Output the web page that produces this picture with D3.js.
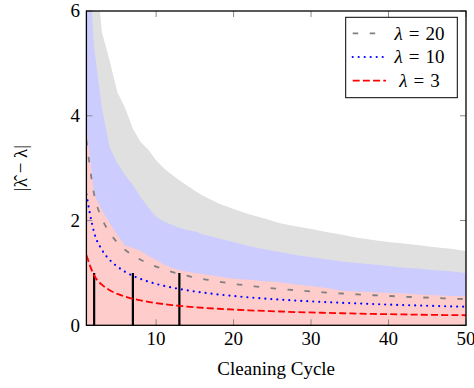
<!DOCTYPE html>
<html>
<head>
<meta charset="utf-8">
<script src="https://cdn.jsdelivr.net/npm/d3@7"></script>
<style>
  body { margin: 0; background: #fff; }
</style>
</head>
<body>
<svg id="chart" width="474" height="388"></svg>
<script>
// cleaning cycles where values were read
const cycles = [1,2,3,4,5,6,7,8,9,10,11,12,13,14,15,16,18,20,22,24,26,28,30,32,34,36,38,40,42,44,46,48,50];

// upper edges of the shaded bands
const band20 = [10.5,7.2,5.6,5.05,4.45,4.15,3.75,3.5,3.35,3.15,3.0,2.88,2.77,2.67,2.57,2.48,2.33,2.22,2.12,2.04,1.95,1.89,1.84,1.78,1.73,1.67,1.63,1.59,1.56,1.53,1.49,1.46,1.42];
const band10 = [7.6,5.3,4.15,3.4,3.1,2.87,2.68,2.45,2.25,2.07,1.98,1.92,1.86,1.82,1.79,1.74,1.66,1.59,1.51,1.45,1.40,1.34,1.30,1.26,1.22,1.19,1.16,1.13,1.10,1.08,1.05,1.03,1.00];
const band3  = [3.8,2.5,2.2,1.95,1.72,1.52,1.48,1.42,1.33,1.25,1.16,1.10,1.05,1.02,1.0,0.98,0.93,0.89,0.87,0.84,0.82,0.78,0.75,0.71,0.66,0.645,0.63,0.615,0.605,0.59,0.575,0.56,0.55];

// mean error curves
const mean20 = [3.54,2.5,2.04,1.77,1.58,1.44,1.34,1.25,1.18,1.12,1.07,1.02,0.98,0.95,0.91,0.885,0.835,0.79,0.755,0.72,0.695,0.67,0.645,0.625,0.607,0.59,0.574,0.56,0.546,0.534,0.522,0.511,0.5];
const mean10 = [2.5,1.77,1.44,1.25,1.12,1.02,0.945,0.885,0.833,0.79,0.754,0.722,0.693,0.668,0.645,0.625,0.589,0.559,0.533,0.51,0.49,0.472,0.456,0.442,0.429,0.417,0.406,0.395,0.386,0.377,0.369,0.361,0.354];
const mean3  = [1.34,0.95,0.775,0.67,0.6,0.547,0.506,0.474,0.447,0.424,0.404,0.387,0.372,0.358,0.346,0.335,0.316,0.3,0.286,0.274,0.263,0.253,0.245,0.237,0.23,0.223,0.217,0.212,0.207,0.202,0.198,0.194,0.192];

// vertical markers
const markerCycles = [2, 7, 13];
const markerHeight = 1;

const xTicks = [10, 20, 30, 40, 50];
const yTicks = [0, 2, 4, 6];

const series = [
  { name: "20", band: band20, mean: mean20, fill: "#e0e0e0", stroke: "#808080", dash: "5.5,11.5", cap: "butt", width: 1.8 },
  { name: "10", band: band10, mean: mean10, fill: "#ccccff", stroke: "#0000ff", dash: "0,6", cap: "round", width: 2.2 },
  { name: "3",  band: band3,  mean: mean3,  fill: "#ffcccc", stroke: "#ff0000", dash: "7,3.2", cap: "butt", width: 1.8 }
];

const FONT = '"Liberation Serif"';
const margin = { left: 86.4, right: 466, top: 11, bottom: 325.3 };
const svg = d3.select("#chart");

const x = d3.scaleLinear().domain([1, 50]).range([margin.left, margin.right]);
const y = d3.scaleLinear().domain([0, 6]).range([margin.bottom, margin.top]);

svg.append("defs").append("clipPath").attr("id", "plotclip")
  .append("rect")
  .attr("x", margin.left).attr("y", margin.top)
  .attr("width", margin.right - margin.left)
  .attr("height", margin.bottom - margin.top);

const plot = svg.append("g").attr("clip-path", "url(#plotclip)");

// bands, widest first
series.forEach(s => {
  const area = d3.area()
    .x((d, i) => x(cycles[i]))
    .y0(y(0))
    .y1(d => y(d));
  plot.append("path")
    .datum(s.band)
    .attr("d", area)
    .attr("fill", s.fill);
});

// markers
plot.selectAll("line.marker")
  .data(markerCycles)
  .join("line")
  .attr("class", "marker")
  .attr("x1", d => x(d)).attr("x2", d => x(d))
  .attr("y1", y(0)).attr("y2", y(markerHeight))
  .attr("stroke", "#000")
  .attr("stroke-width", 2.2);

// mean curves
series.forEach(s => {
  const line = d3.line()
    .x((d, i) => x(cycles[i]))
    .y(d => y(d))
    .curve(d3.curveMonotoneX);
  plot.append("path")
    .datum(s.mean)
    .attr("d", line)
    .attr("fill", "none")
    .attr("stroke", s.stroke)
    .attr("stroke-width", s.width)
    .attr("stroke-dasharray", s.dash)
    .attr("stroke-linecap", s.cap);
});

// ticks (inward, on all four sides)
const tickColor = "#8a8a8a";
const tl = 6;
const ticks = svg.append("g").attr("stroke", tickColor).attr("stroke-width", 1);
xTicks.forEach(t => {
  ticks.append("line").attr("x1", x(t)).attr("x2", x(t)).attr("y1", y(0)).attr("y2", y(0) - tl);
  ticks.append("line").attr("x1", x(t)).attr("x2", x(t)).attr("y1", y(6)).attr("y2", y(6) + tl);
});
yTicks.forEach(t => {
  ticks.append("line").attr("x1", x(1)).attr("x2", x(1) + tl).attr("y1", y(t)).attr("y2", y(t));
  ticks.append("line").attr("x1", x(50)).attr("x2", x(50) - tl).attr("y1", y(t)).attr("y2", y(t));
});

// frame
svg.append("rect")
  .attr("x", margin.left).attr("y", margin.top)
  .attr("width", margin.right - margin.left)
  .attr("height", margin.bottom - margin.top)
  .attr("fill", "none")
  .attr("stroke", "#000")
  .attr("stroke-width", 1.3);

// tick labels
svg.append("g").selectAll("text")
  .data(xTicks)
  .join("text")
  .style("font-family", FONT)
  .attr("x", d => x(d))
  .attr("y", 345)
  .attr("text-anchor", "middle")
  .attr("font-size", 19)
  .text(d => d);

svg.append("g").selectAll("text")
  .data(yTicks)
  .join("text")
  .style("font-family", FONT)
  .attr("x", 80)
  .attr("y", d => y(d))
  .attr("dy", "0.34em")
  .attr("text-anchor", "end")
  .attr("font-size", 19)
  .text(d => d);

// axis titles
svg.append("text")
  .style("font-family", FONT)
  .attr("x", (margin.left + margin.right) / 2)
  .attr("y", 375)
  .attr("text-anchor", "middle")
  .attr("font-size", 19)
  .text("Cleaning Cycle");

svg.append("text")
  .style("font-family", FONT)
  .attr("transform", "translate(27,168) rotate(-90)")
  .attr("text-anchor", "middle")
  .attr("font-size", 19)
  .text("|λ\u0302 \u2212 λ|");

// legend
const lg = svg.append("g");
lg.append("rect")
  .attr("x", 345.7).attr("y", 17.3)
  .attr("width", 111.6).attr("height", 80.4)
  .attr("fill", "#fff")
  .attr("stroke", "#000")
  .attr("stroke-width", 1);

series.forEach((s, i) => {
  const cy = 33.3 + i * 23.7;
  lg.append("line")
    .attr("x1", 352.7).attr("x2", 386)
    .attr("y1", cy).attr("y2", cy)
    .attr("stroke", s.stroke)
    .attr("stroke-width", s.width)
    .attr("stroke-dasharray", s.dash)
    .attr("stroke-linecap", s.cap);
  const t = lg.append("text")
    .style("font-family", FONT)
    .attr("x", 419.5).attr("y", cy)
    .attr("dy", "0.33em")
    .attr("text-anchor", "middle")
    .attr("font-size", 19);
  t.append("tspan").attr("font-style", "italic").text("λ");
  t.append("tspan").attr("dx", 6).text("=");
  t.append("tspan").attr("dx", 6).text(s.name);
});
</script>
</body>
</html>
